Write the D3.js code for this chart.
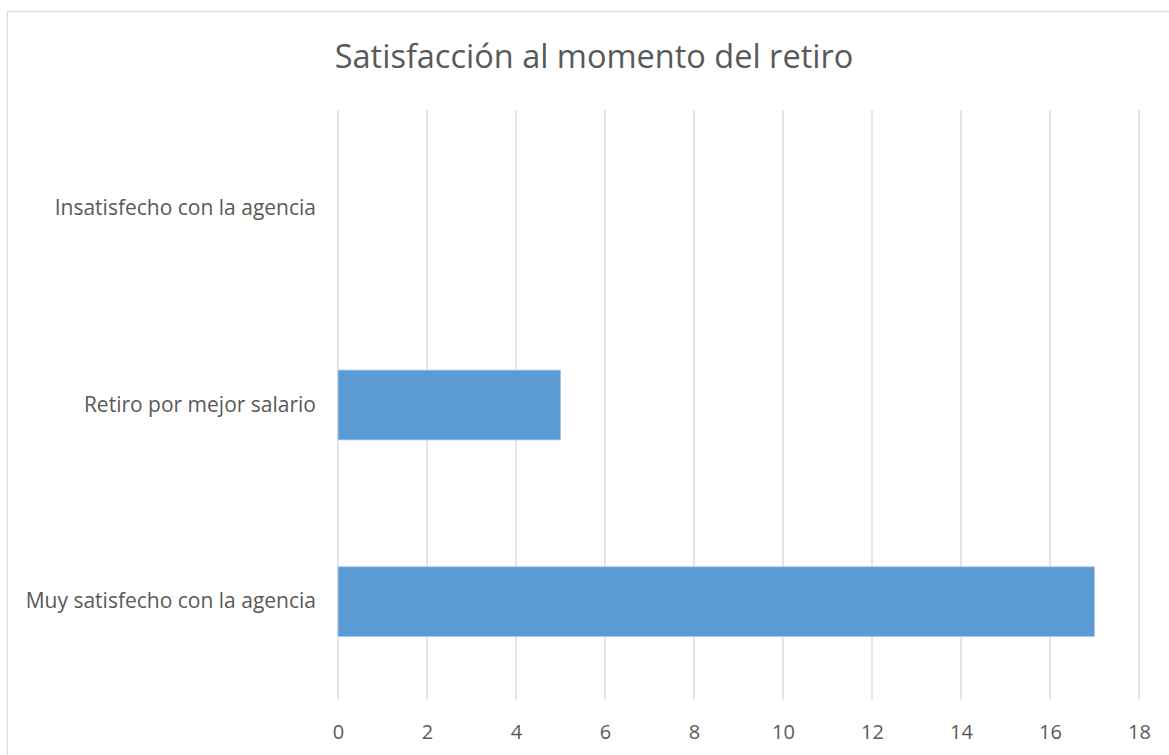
<!DOCTYPE html>
<html>
<head>
<meta charset="utf-8">
<script src="https://cdn.jsdelivr.net/npm/d3@7"></script>
<style>
  body { margin: 0; background: #fff; }
  svg text { font-family: "Open Sans", sans-serif; fill: #595959; }
</style>
</head>
<body>
<div id="chart"></div>
<script>
// data
const categories = ["Insatisfecho con la agencia", "Retiro por mejor salario", "Muy satisfecho con la agencia"];
const values = [0, 5, 17];
const xTicks = [0, 2, 4, 6, 8, 10, 12, 14, 16, 18];
const title = "Satisfacción al momento del retiro";

const WIDTH = 1169;
const HEIGHT = 755;

// plot area
const PLOT_LEFT = 338, PLOT_RIGHT = 1139, PLOT_TOP = 110, PLOT_BOTTOM = 700;

const svg = d3.select("#chart")
    .append("svg")
    .attr("width", WIDTH)
    .attr("height", HEIGHT);

// chart frame, runs off the right and bottom edges
svg.append("rect")
    .attr("x", 7.5)
    .attr("y", 11.5)
    .attr("width", 1200)
    .attr("height", 800)
    .attr("fill", "#fff")
    .attr("stroke", "#d9d9d9")
    .attr("stroke-width", 1.2);

const x = d3.scaleLinear()
    .domain([0, 18])
    .range([PLOT_LEFT, PLOT_RIGHT]);

const y = d3.scaleBand()
    .domain(categories)
    .range([PLOT_TOP, PLOT_BOTTOM])
    .paddingInner(0.645)
    .paddingOuter(0.3225);

// gridlines
svg.append("g")
    .selectAll("line")
    .data(xTicks)
    .enter()
    .append("line")
    .attr("x1", d => x(d))
    .attr("x2", d => x(d))
    .attr("y1", PLOT_TOP)
    .attr("y2", PLOT_BOTTOM)
    .attr("stroke", "#d9d9d9")
    .attr("stroke-width", 1.3);

// bars
svg.append("g")
    .selectAll("rect")
    .data(values)
    .enter()
    .append("rect")
    .attr("x", x(0))
    .attr("y", (d, i) => y(categories[i]))
    .attr("width", d => x(d) - x(0))
    .attr("height", y.bandwidth())
    .attr("fill", "#5b9bd5")
    .attr("stroke", d => d > 0 ? "#a9c9ea" : "none")
    .attr("stroke-width", 0.8);

// x axis labels
const xAxis = d3.axisBottom(x)
    .tickValues(xTicks)
    .tickSize(0)
    .tickPadding(0);

const gx = svg.append("g")
    .attr("transform", `translate(0,${PLOT_BOTTOM})`)
    .call(xAxis);
gx.select(".domain").remove();
gx.selectAll("text")
    .attr("y", 32)
    .attr("dy", "0.35em")
    .style("font-size", "20px")
    .style("font-family", "'Open Sans', sans-serif")
    .attr("fill", "#595959");

// category labels
const yAxis = d3.axisLeft(y)
    .tickSize(0)
    .tickPadding(22);

const gy = svg.append("g")
    .attr("transform", `translate(${PLOT_LEFT},0)`)
    .call(yAxis);
gy.select(".domain").remove();
gy.selectAll("text")
    .style("font-size", "21px")
    .style("font-family", "'Open Sans', sans-serif")
    .attr("fill", "#595959");

// title
svg.append("text")
    .attr("x", 594)
    .attr("y", 57)
    .attr("dy", "0.35em")
    .attr("text-anchor", "middle")
    .style("font-size", "32.5px")
    .text(title);
</script>
</body>
</html>
